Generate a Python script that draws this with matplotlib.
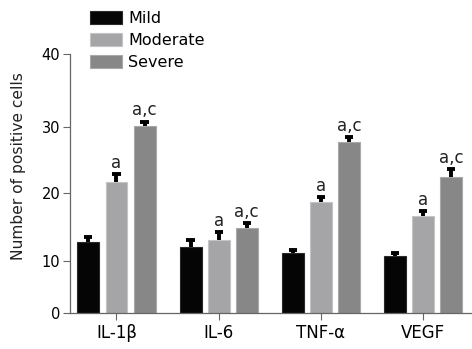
import numpy as np
import matplotlib.pyplot as plt

# data
markers = ['IL-1β', 'IL-6', 'TNF-α', 'VEGF']
groups = ['Mild', 'Moderate', 'Severe']
mild = [12.8, 12.1, 11.1, 10.7]
moderate = [21.7, 13.1, 18.7, 16.7]
severe = [30.1, 14.8, 27.7, 22.5]
mild_err = [0.75, 0.9, 0.5, 0.5]
moderate_err = [1.15, 1.1, 0.8, 0.7]
severe_err = [0.65, 0.75, 0.75, 1.15]
moderate_sig = ['a', 'a', 'a', 'a']
severe_sig = ['a,c', 'a,c', 'a,c', 'a,c']

colors = ['#050505', '#a5a5a7', '#878787']
edges = ['#2a2a2a', '#c4c4c6', '#a9a9a9']

# the original y axis is not evenly spaced between ticks
tick_vals = [0, 10, 20, 30, 40]
tick_pos = [0, 52.6, 120, 186.1, 259.8]
fwd = lambda v: np.interp(v, tick_vals, tick_pos)
inv = lambda p: np.interp(p, tick_pos, tick_vals)

fig = plt.figure(figsize=(4.72, 3.49), dpi=100)
ax = fig.add_axes([70 / 472, (349 - 313.3) / 349, 1 - 70 / 472, (313.3 - 53.5) / 349])
ax.set_yscale('function', functions=(fwd, inv))

x = np.arange(len(markers))
width = 0.215
step = 0.275
cap = 0.04
series = [mild, moderate, severe]
errs = [mild_err, moderate_err, severe_err]
for k in range(3):
    xs = x + (k - 1) * step
    vals = np.array(series[k])
    tops = vals + np.array(errs[k])
    ax.bar(xs, vals, width, color=colors[k], edgecolor=edges[k],
           linewidth=0.8, label=groups[k], zorder=2)
    # upper half error bars only (T shape)
    ax.vlines(xs, vals, tops, color='black', linewidth=2.8, zorder=3)
    ax.hlines(tops, xs - cap, xs + cap, color='black', linewidth=2.8, zorder=3)

for i in range(len(markers)):
    ax.text(x[i], moderate[i] + moderate_err[i] + 0.3, moderate_sig[i],
            ha='center', va='bottom', fontsize=12, color='#222222')
    ax.text(x[i] + step, severe[i] + severe_err[i] + 0.3, severe_sig[i],
            ha='center', va='bottom', fontsize=12, color='#222222')

ax.set_ylim(0, 40)
ax.set_xlim(-0.455, 3.48)
ax.set_yticks(tick_vals)
ax.set_xticks(x)
ax.set_xticklabels(markers, fontsize=12)
ax.tick_params(axis='y', labelsize=10.5, length=5, width=0.8, color='#666666', pad=2)
ax.tick_params(axis='x', length=5, width=0.8, color='#666666', pad=3)
for s in ['top', 'right']:
    ax.spines[s].set_visible(False)
for s in ['left', 'bottom']:
    ax.spines[s].set_color('#666666')
    ax.spines[s].set_linewidth(0.9)

fig.text(19 / 472, 1 - 166 / 349, 'Number of positive cells', rotation=90,
         ha='center', va='center', fontsize=11.2, color='#222222')

ax.legend(loc='upper left', bbox_to_anchor=(0.035, 1.19), frameon=False,
          fontsize=11.5, handlelength=2.0, handleheight=0.9, labelspacing=0.45,
          handletextpad=0.35, borderaxespad=0)

fig.savefig('out.png', dpi=100)
